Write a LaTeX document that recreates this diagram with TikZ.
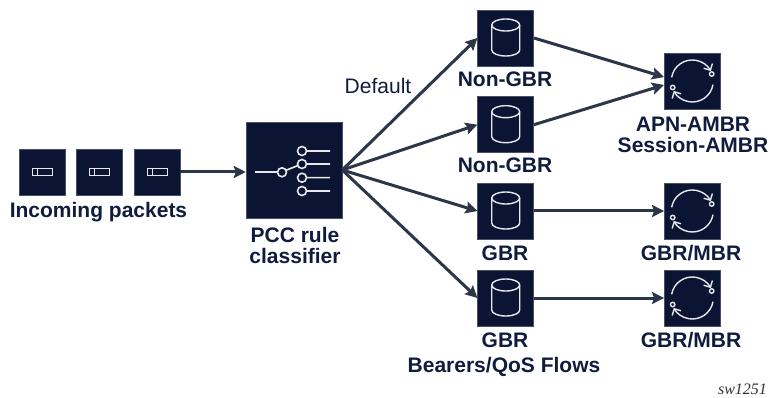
\documentclass[tikz,border=0pt]{standalone}
\usepackage{fontspec}
\setmainfont{Liberation Sans}
\newfontfamily\tagfont{Liberation Serif}
\usetikzlibrary{arrows.meta}
\definecolor{boxblue}{HTML}{0B1533}
\definecolor{textblue}{HTML}{101C3E}
\definecolor{arrowgray}{HTML}{2B3648}
\definecolor{icongray}{HTML}{E6E8EC}
\begin{document}
\begin{tikzpicture}[x=1pt,y=-1pt,
    arrow/.style = {line width=3pt,arrowgray,-{Stealth[length=12pt,width=12pt,inset=2pt]}},
    box/.style = {fill=boxblue,draw=boxblue!75!white,line width=0.5pt,inner sep=0pt,minimum size=#1},
    title/.style = {font=\fontsize{21}{24}\selectfont\bfseries,text=textblue,inner sep=0pt},
    icon/.style = {draw=icongray,line width=1.4pt},
    packeticon/.pic = {
        \draw[icon,line width=1pt] (-10,-3.4) rectangle (10,3.4);
        \draw[icon,line width=1pt] (-5,-3.4) -- (-5,3.4);
    },
    bearericon/.pic = {
        \draw[icon] (0,-13) ellipse (14 and 6);
        \draw[icon] (-14,-13) -- (-14,12) arc (180:0:14 and 6) -- (14,-13);
    },
    rateicon/.pic = {
        \draw[icon,-{Straight Barb[length=5pt,width=10pt]}] (190:21) arc (190:332:21);
        \draw[icon,-{Straight Barb[length=5pt,width=10pt]}] (10:21) arc (10:152:21);
        \draw[icon,fill=boxblue] (19.4,-7) circle (2.2);
        \draw[icon,fill=boxblue] (-19.6,6.5) circle (2.2);
    }]
    \useasboundingbox (0,0) rectangle (771,398);

    % Incoming packets
    \node [box=46pt] (pkt1) at (42,172) {};
    \node [box=46pt] (pkt2) at (99,172) {};
    \node [box=46pt] (pkt3) at (157,172) {};
    \pic at (pkt1) {packeticon};
    \pic at (pkt2) {packeticon};
    \pic at (pkt3) {packeticon};
    \node [title] (pktlabel) at (98.5,212) {Incoming packets};

    % Classifier
    \node [box=96pt] (cls) at (294,170) {};
    \node [title] (clslabel1) at (295,235) {PCC rule};
    \node [title] (clslabel2) at (295,256) {classifier};
    \draw[icon,line width=1.6pt] (255,172.3) -- (277.5,172.3);
    \draw[icon,line width=1.6pt] (286,170.3) -- (298,165.5);
    \draw[icon,line width=1.6pt] (282,172.3) circle (4.5);
    \draw[icon,line width=1.6pt] (302,151) circle (4.5) (306.5,151) -- (330,151);
    \draw[icon,line width=1.6pt] (302,164) circle (4.5) (306.5,164) -- (330,164);
    \draw[icon,line width=1.6pt] (302,177.7) circle (4.5) (306.5,177.7) -- (330,177.7);
    \draw[icon,line width=1.6pt] (302,191) circle (4.5) (306.5,191) -- (330,191);

    % Bearers
    \node [box=56pt] (nongbr1) at (505.7,38) {};
    \node [box=56pt] (nongbr2) at (505.7,124.7) {};
    \node [box=56pt] (gbr1) at (505.7,211) {};
    \node [box=56pt] (gbr2) at (505.7,298) {};
    \pic at (nongbr1) {bearericon};
    \pic at (nongbr2) {bearericon};
    \pic at (gbr1) {bearericon};
    \pic at (gbr2) {bearericon};
    \node [title] (nongbrlabel1) at (505,79) {Non-GBR};
    \node [title] (nongbrlabel2) at (505,165) {Non-GBR};
    \node [title] (gbrlabel1) at (505,253) {GBR};
    \node [title] (gbrlabel2) at (505,340) {GBR};
    \node [title] (flowlabel) at (504,367) {Bearers/QoS Flows};

    % Rate limits
    \node [box=56pt] (apn) at (692.3,81) {};
    \node [box=56pt] (mbr1) at (692.3,211) {};
    \node [box=56pt] (mbr2) at (692.3,298) {};
    \pic at (apn) {rateicon};
    \pic at (mbr1) {rateicon};
    \pic at (mbr2) {rateicon};
    \node [title] (apnlabel1) at (693,124) {APN-AMBR};
    \node [title] (apnlabel2) at (693,145) {Session-AMBR};
    \node [title] (mbrlabel1) at (691,253) {GBR/MBR};
    \node [title] (mbrlabel2) at (691,340) {GBR/MBR};

    \node [inner sep=0pt,font=\fontsize{21}{24}\selectfont,text=textblue] (defaultlabel) at (378,86) {Default};
    \node [inner sep=0pt,font=\tagfont\itshape\fontsize{16}{18}\selectfont,text=black!80] (tag) at (742.5,389.5) {sw1251};

    \draw[arrow] (pkt3.east) -- (pkt3.east -| cls.west);
    \draw[arrow] (cls.east) -- (nongbr1.west);
    \draw[arrow] (cls.east) -- (nongbr2.west);
    \draw[arrow] (cls.east) -- (gbr1.west);
    \draw[arrow] (cls.east) -- (gbr2.west);
    \draw[arrow] (nongbr1.east) -- (apn.172);
    \draw[arrow] (nongbr2.east) -- (apn.188);
    \draw[arrow] (gbr1) -- (mbr1);
    \draw[arrow] (gbr2) -- (mbr2);
\end{tikzpicture}
\end{document}
